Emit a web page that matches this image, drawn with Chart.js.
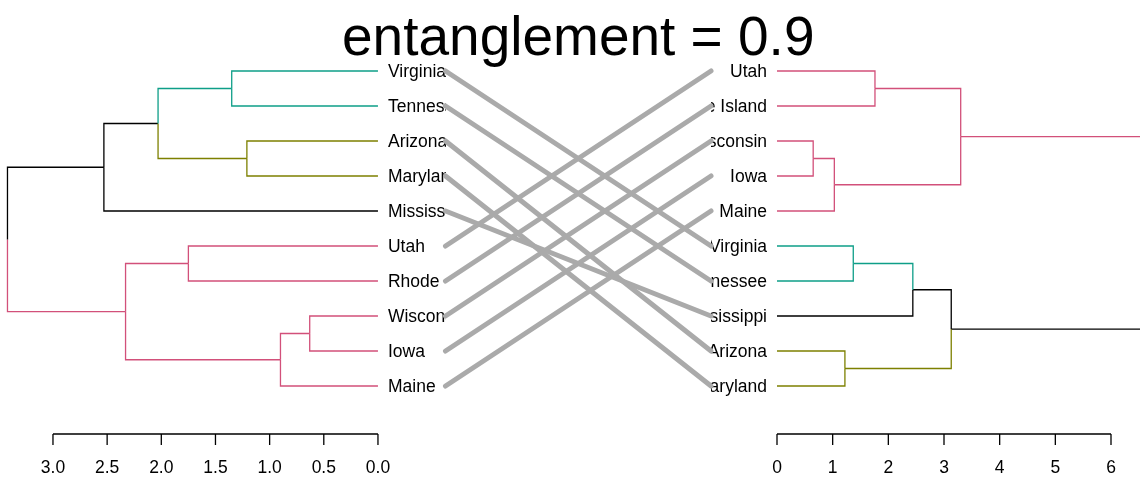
<!DOCTYPE html>
<html>
<head>
<meta charset="utf-8">
<script src="https://cdn.jsdelivr.net/npm/chart.js@4"></script>
<style>
  html, body { margin: 0; padding: 0; background: #fff; }
  #wrap { width: 1140px; height: 477px; position: relative; }
</style>
</head>
<body>
<div id="wrap"><canvas id="tangle"></canvas></div>
<script>
// left dendrogram (R style merge matrix: negative = leaf, positive = earlier merge)
const leavesL = ['Virginia', 'Tennessee', 'Arizona', 'Maryland', 'Mississippi',
                 'Utah', 'Rhode Island', 'Wisconsin', 'Iowa', 'Maine'];
const groupL = ['teal', 'teal', 'olive', 'olive', 'black',
                'pink', 'pink', 'pink', 'pink', 'pink'];
const mergeL = [[-1, -2], [-3, -4], [1, 2], [3, -5], [-6, -7], [-8, -9], [6, -10], [5, 7], [4, 8]];
const heightL = [1.35, 1.21, 2.03, 2.53, 1.75, 0.63, 0.90, 2.33, 3.42];

// right dendrogram
const leavesR = ['Utah', 'Rhode Island', 'Wisconsin', 'Iowa', 'Maine',
                 'Virginia', 'Tennessee', 'Mississippi', 'Arizona', 'Maryland'];
const groupR = ['pink', 'pink', 'pink', 'pink', 'pink',
                'teal', 'teal', 'black', 'olive', 'olive'];
const mergeR = [[-1, -2], [-3, -4], [2, -5], [1, 3], [-6, -7], [5, -8], [-9, -10], [6, 7], [4, 8]];
const heightR = [1.76, 0.65, 1.03, 3.30, 1.37, 2.44, 1.22, 3.13, 6.6];

const ticksL = [3.0, 2.5, 2.0, 1.5, 1.0, 0.5, 0.0];
const ticksR = [0, 1, 2, 3, 4, 5, 6];
const titleText = 'entanglement = 0.9';

const palette = { pink: '#D2507A', olive: '#7D8000', teal: '#0E9E88', black: '#000000' };
const FONT = '"Liberation Sans", Arial, Helvetica, sans-serif';

// scale range so that value v0 sits at pixel p0 and v1 at p1 on a 1140px wide area
function rangeFor(p0, v0, p1, v1, width) {
  const k = (v1 - v0) / (p1 - p0);
  return { min: v0 - p0 * k, max: v0 + (width - p0) * k };
}
const W = 1140;
const rL = rangeFor(0, 3.489, W, 3.489 - W / 108.33, W);   // reversed axis, 0 at x=378
const rR = rangeFor(777, 0, 1111, 6, W);
const rM = rangeFor(445.5, 0, 711, 1, W);

function treeDatasets(leaves, groups, merge, height, axis) {
  const nodes = [];
  const leafNode = i => ({ y: i + 1, h: 0, color: groups[i] });
  const get = id => id < 0 ? leafNode(-id - 1) : nodes[id - 1];
  const sets = [];
  merge.forEach((pair, k) => {
    const a = get(pair[0]), b = get(pair[1]);
    const node = { y: (a.y + b.y) / 2, h: height[k], color: a.color === b.color ? a.color : 'black' };
    nodes.push(node);
    [a, b].forEach(c => {
      sets.push({
        type: 'line',
        xAxisID: axis,
        data: [{ x: c.h, y: c.y }, { x: node.h, y: c.y }, { x: node.h, y: node.y }],
        borderColor: palette[c.color],
        borderWidth: 1.3,
        pointRadius: 0,
        fill: false,
        tension: 0,
        clip: false,
        borderJoinStyle: 'miter'
      });
    });
  });
  return sets;
}

const connectors = leavesL.map((name, i) => ({
  type: 'line',
  xAxisID: 'xM',
  data: [{ x: 0, y: i + 1 }, { x: 1, y: leavesR.indexOf(name) + 1 }],
  borderColor: '#AAAAAA',
  borderWidth: 5,
  borderCapStyle: 'round',
  pointRadius: 0,
  clip: false,
  fill: false
}));

const labelsPlugin = {
  id: 'labels',
  beforeDatasetsDraw(chart) {
    const ctx = chart.ctx;
    const y = chart.scales.y, xL = chart.scales.xL, xR = chart.scales.xR;
    ctx.save();
    ctx.font = '17.5px ' + FONT;
    ctx.fillStyle = '#000';
    ctx.textBaseline = 'alphabetic';
    ctx.save();
    ctx.beginPath();
    ctx.rect(xL.getPixelForValue(0), 0, 446 - xL.getPixelForValue(0), chart.height);
    ctx.clip();
    ctx.textAlign = 'left';
    leavesL.forEach((n, i) => ctx.fillText(n, xL.getPixelForValue(0) + 10, y.getPixelForValue(i + 1) + 6.3));
    ctx.restore();
    ctx.save();
    ctx.beginPath();
    ctx.rect(711, 0, xR.getPixelForValue(0) - 711, chart.height);
    ctx.clip();
    ctx.textAlign = 'right';
    leavesR.forEach((n, i) => ctx.fillText(n, xR.getPixelForValue(0) - 10, y.getPixelForValue(i + 1) + 6.3));
    ctx.restore();
    ctx.restore();
  },
  afterDraw(chart) {
    const ctx = chart.ctx;
    const xL = chart.scales.xL, xR = chart.scales.xR, xM = chart.scales.xM;
    ctx.save();
    ctx.strokeStyle = '#000';
    ctx.fillStyle = '#000';
    ctx.lineWidth = 1.3;
    const axisY = 434, tickLen = 11;
    function axis(scale, ticks, fmt) {
      const ps = ticks.map(t => scale.getPixelForValue(t));
      ctx.beginPath();
      ctx.moveTo(Math.min(...ps), axisY);
      ctx.lineTo(Math.max(...ps), axisY);
      ps.forEach(p => { ctx.moveTo(p, axisY); ctx.lineTo(p, axisY + tickLen); });
      ctx.stroke();
      ctx.font = '17.5px ' + FONT;
      ctx.textAlign = 'center';
      ctx.textBaseline = 'alphabetic';
      ticks.forEach((t, i) => ctx.fillText(fmt(t), ps[i], 472.5));
    }
    axis(xL, ticksL, t => t.toFixed(1));
    axis(xR, ticksR, t => String(t));
    ctx.font = '55px ' + FONT;
    ctx.textAlign = 'center';
    ctx.fillText(titleText, xM.getPixelForValue(0.5), 55);
    ctx.restore();
  }
};

new Chart(document.getElementById('tangle'), {
  type: 'line',
  data: {
    datasets: [
      ...treeDatasets(leavesL, groupL, mergeL, heightL, 'xL'),
      ...treeDatasets(leavesR, groupR, mergeR, heightR, 'xR'),
      ...connectors
    ]
  },
  options: {
    responsive: true,
    maintainAspectRatio: false,
    animation: false,
    layout: { padding: { left: 0, right: 0, top: 71, bottom: 91 } },
    plugins: { legend: { display: false }, tooltip: { enabled: false }, title: { display: false } },
    scales: {
      xL: { type: 'linear', axis: 'x', reverse: true, min: rL.max, max: rL.min, display: false },
      xR: { type: 'linear', axis: 'x', min: rR.min, max: rR.max, display: false },
      xM: { type: 'linear', axis: 'x', min: rM.min, max: rM.max, display: false },
      y: { type: 'linear', reverse: true, min: 1, max: 10, display: false }
    }
  },
  plugins: [labelsPlugin]
});
</script>
</body>
</html>
